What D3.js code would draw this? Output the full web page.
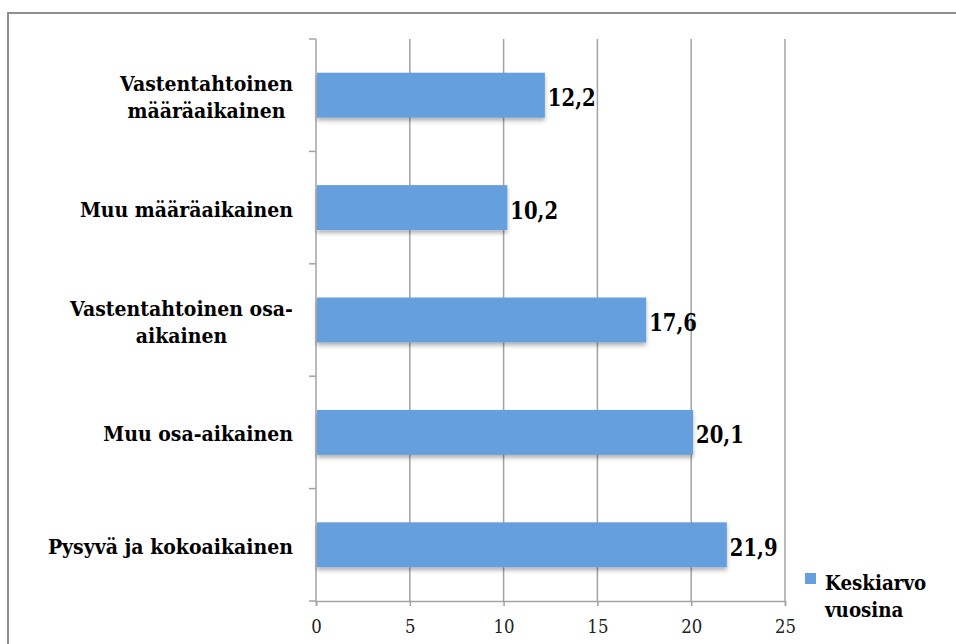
<!DOCTYPE html>
<html>
<head>
<meta charset="utf-8">
<script src="https://cdn.jsdelivr.net/npm/d3@7"></script>
<style>
  html, body { margin: 0; padding: 0; background: #fff; }
  svg { display: block; }
  svg text { font-family: "DejaVu Serif", serif; }
</style>
</head>
<body>
<svg id="chart" width="956" height="644"></svg>
<script>
// ---- data ----
const categories = [
  "Vastentahtoinen\nmääräaikainen",
  "Muu määräaikainen",
  "Vastentahtoinen osa-\naikainen",
  "Muu osa-aikainen",
  "Pysyvä ja kokoaikainen"
];
const values = [12.2, 10.2, 17.6, 20.1, 21.9];
const valueLabels = ["12,2", "10,2", "17,6", "20,1", "21,9"];
const xTicks = [0, 5, 10, 15, 20, 25];
const seriesName = ["Keskiarvo", "vuosina"];

(function () {
// ---- layout ----
const svg = d3.select("#chart");
const pL = 316, pR = 785, pT = 39, pB = 601;
const barColor = "#669fdd";
const gridColor = "#a3a3a3";
const kLab = 0.9, kLeg = 0.87, kVal = 0.8, kTick = 0.92;

// outer border
svg.append("rect")
  .attr("x", 8).attr("y", 13).attr("width", 970).attr("height", 660)
  .attr("fill", "#fff").attr("stroke", "#8e8e8e").attr("stroke-width", 2);

const defs = svg.append("defs");
const f = defs.append("filter").attr("id", "shadow")
  .attr("x", "-5%").attr("y", "-20%").attr("width", "110%").attr("height", "160%");
f.append("feDropShadow").attr("dx", 0).attr("dy", 3).attr("stdDeviation", 2)
  .attr("flood-color", "#000").attr("flood-opacity", 0.3);

const x = d3.scaleLinear().domain([0, 25]).range([pL, pR]);
const y = d3.scaleBand().domain(categories).range([pT, pB]).paddingInner(0.6).paddingOuter(0.3);
const yb = d3.scaleBand().domain(categories).range([pT, pB]);

// vertical gridlines
svg.append("g").selectAll("line").data(xTicks.slice(1)).join("line")
  .attr("x1", d => x(d)).attr("x2", d => x(d))
  .attr("y1", pT).attr("y2", pB)
  .attr("stroke", gridColor).attr("stroke-width", 1.5);

// bottom axis
const xAxis = svg.append("g").attr("transform", `translate(0,${pB})`)
  .call(d3.axisBottom(x).tickValues(xTicks).tickSize(5).tickFormat(d3.format("d")));
xAxis.attr("font-family", null);
xAxis.select(".domain").attr("stroke", gridColor).attr("stroke-width", 1.5);
xAxis.selectAll(".tick line").attr("stroke", gridColor).attr("stroke-width", 1.5);
xAxis.selectAll(".tick text")
  .attr("font-size", 18).attr("fill", "#222")
  .attr("y", 32).attr("dy", null)
  .attr("transform", `scale(${kTick},1)`);

// left axis line and ticks at band boundaries
svg.append("line").attr("x1", pL).attr("x2", pL).attr("y1", pT).attr("y2", pB)
  .attr("stroke", gridColor).attr("stroke-width", 1.5);
const bounds = categories.map(c => yb(c)).concat([pB]);
svg.append("g").selectAll("line").data(bounds).join("line")
  .attr("x1", pL - 7).attr("x2", pL).attr("y1", d => d).attr("y2", d => d)
  .attr("stroke", gridColor).attr("stroke-width", 1.5);

// bars
svg.append("g").selectAll("rect").data(values).join("rect")
  .attr("x", x(0) + 1)
  .attr("y", (d, i) => y(categories[i]))
  .attr("width", d => x(d) - x(0) - 1)
  .attr("height", y.bandwidth())
  .attr("fill", barColor)
  .attr("filter", "url(#shadow)");

// value labels
svg.append("g").selectAll("text").data(values).join("text")
  .attr("transform", (d, i) => `translate(${x(d) + 3},${yb(categories[i]) + yb.bandwidth() / 2 + 11}) scale(${kVal},1)`)
  .attr("font-size", 24.5).attr("font-weight", "bold")
  .attr("fill", "#000")
  .text((d, i) => valueLabels[i]);

// category labels (multi-line, centered lines, right-aligned block)
const labelRight = 293, lineH = 27;
categories.forEach((c, i) => {
  const lines = c.split("\n");
  const cy = yb(c) + yb.bandwidth() / 2;
  const g = svg.append("g");
  const texts = lines.map((ln, k) => g.append("text")
    .attr("font-size", 21).attr("font-weight", "bold")
    .attr("fill", "#000").attr("text-anchor", "middle")
    .text(ln));
  const maxW = d3.max(texts, t => t.node().getComputedTextLength()) * kLab;
  texts.forEach((t, k) => t.attr("transform",
    `translate(${labelRight - maxW / 2},${cy + 9 - (lines.length - 1) * lineH / 2 + k * lineH}) scale(${kLab},1)`));
});

// legend
svg.append("rect").attr("x", 805).attr("y", 573).attr("width", 11).attr("height", 11).attr("fill", barColor);
svg.append("g").selectAll("text").data(seriesName).join("text")
  .attr("transform", (d, i) => `translate(825,${590 + i * 27}) scale(${kLeg},1)`)
  .attr("font-size", 21).attr("font-weight", "bold").attr("fill", "#000")
  .text(d => d);
})();
</script>
</body>
</html>
